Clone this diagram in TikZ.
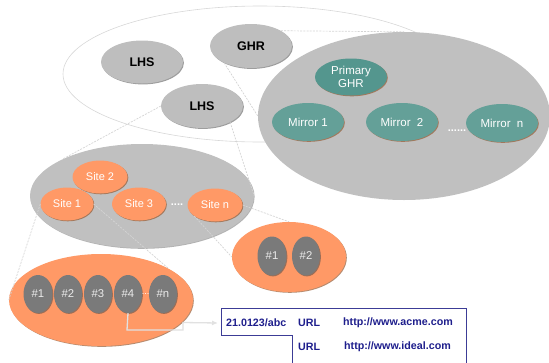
\documentclass[tikz,border=0pt]{standalone}
\usepackage{fontspec}
\setmainfont{Liberation Sans}
\usetikzlibrary{shapes.geometric,shadows,arrows.meta}
\definecolor{bggray}{RGB}{192,192,192}
\definecolor{hubgray}{RGB}{190,190,190}
\definecolor{tealA}{RGB}{100,160,152}
\definecolor{tealB}{RGB}{84,150,142}
\definecolor{orng}{RGB}{255,153,102}
\definecolor{dgray}{RGB}{122,122,122}
\definecolor{navy}{RGB}{30,30,140}
\definecolor{boxline}{RGB}{60,60,150}
\definecolor{zoomln}{RGB}{212,212,212}
\definecolor{outln}{RGB}{215,215,215}
\definecolor{conncol}{RGB}{225,225,225}
\tikzset{
  ell/.style 2 args={ellipse, inner sep=0pt, minimum width=#1, minimum height=#2},
  grayshadow/.style={drop shadow={shadow xshift=0.9pt, shadow yshift=-0.9pt, fill=black!70, opacity=0.55}},
  brownshadow/.style={drop shadow={shadow xshift=0.8pt, shadow yshift=-0.8pt, fill={rgb,255:red,150;green,90;blue,50}, opacity=0.7}},
  hub/.style={fill=hubgray, grayshadow, text=black, font=\fontsize{12.5}{14}\selectfont\bfseries},
  mirror/.style={fill=tealA, brownshadow, text=white, font=\fontsize{11.5}{14}\selectfont},
  sitebox/.style={fill=orng, brownshadow, text=white, font=\fontsize{11}{13}\selectfont},
  holder/.style={fill=orng, brownshadow},
  hdl/.style={fill=dgray, grayshadow, text=white!92!black, font=\fontsize{11.3}{13}\selectfont},
  zoomline/.style={draw=zoomln, line width=0.7pt, dash pattern=on 2pt off 1.2pt},
  dotstxt/.style={text=white, font=\fontsize{11}{13}\selectfont\bfseries, inner sep=0pt},
  tabtxt/.style={text=navy, anchor=west, inner sep=0pt, font=\fontsize{10.7}{13}\selectfont\bfseries},
}
\begin{document}
\begin{tikzpicture}[x=1pt,y=-1pt]
\useasboundingbox (0,0) rectangle (549,362);
\clip (0,0) rectangle (549,362);
% outline ellipse
\node[ell={394pt}{136pt}, draw=outln, line width=0.6pt] (world) at (260,74) {};
% big gray ellipse
\node[ell={292pt}{168pt}, fill=bggray] (big) at (404,116) {};
% middle gray ellipse
\node[ell={224pt}{104pt}, fill=bggray, drop shadow={shadow xshift=0.6pt, shadow yshift=-0.8pt, fill=black!60, opacity=0.5}] (mid) at (142,196) {};
% lower holder ellipses
\node[holder, ell={184pt}{92pt}] (low) at (101,300) {};
\node[holder, ell={114pt}{70pt}] (rgt) at (289,257) {};

% hubs
\node[hub, ell={82pt}{43pt}] (lhsA) at (142,62) {LHS};
\node[hub, ell={82pt}{44pt}] (ghr) at (251,46) {GHR};
\node[hub, ell={82pt}{44pt}] (lhsB) at (202,106) {LHS};

% sites
\node[sitebox, ell={55pt}{33pt}] (site2) at (100,177) {Site 2};
\node[sitebox, ell={53pt}{33pt}] (site1) at (67,204) {Site 1};
\node[sitebox, ell={54pt}{33pt}] (site3) at (139,204) {Site 3};
\node[sitebox, ell={55pt}{33pt}] (siten) at (215,205) {Site n};
\node[dotstxt] (sdots) at (177,205) {....};

% zoom lines
\draw[zoomline] (ghr.27) -- (big.north);
\draw[zoomline] (ghr.212) -- (big.west);
\draw[zoomline] (lhsB.west) -- (mid.155);
\draw[zoomline] (lhsB.-30) -- (mid.east);
\draw[zoomline] (site1.west) -- (low.west);
\draw[zoomline] (site1.east) -- (low.25);
\draw[zoomline] (siten.east) -- (rgt.north);
\draw[zoomline] (siten.208) -- (rgt.west);

% mirrors
\node[mirror, fill=tealB, ell={72pt}{37pt}, align=center] (prim) at (351,77) {Primary\\[-1pt]GHR};
\node[mirror, ell={72pt}{38pt}] (mir1) at (308,122) {Mirror 1};
\node[mirror, ell={72pt}{38pt}] (mir2) at (402,122) {Mirror\ \ 2};
\node[mirror, ell={72pt}{38pt}] (mirn) at (502,123) {Mirror\ \ n};
\node[dotstxt] (mdots) at (457,131) {......};

% handles
\node[hdl, ell={29pt}{39pt}] (r1) at (272,256) {\#1};
\node[hdl, ell={28pt}{39pt}] (r2) at (306,256) {\#2};
\node[hdl, ell={29pt}{38pt}] (h1) at (38,294) {\#1};
\node[hdl, ell={28pt}{38pt}] (h2) at (68,294) {\#2};
\node[hdl, ell={28pt}{38pt}] (h3) at (98,294) {\#3};
\node[hdl, ell={28pt}{38pt}] (h4) at (128,294) {\#4};
\node[hdl, ell={28pt}{38pt}] (hn) at (163,294) {\#n};
\node[dotstxt, font=\fontsize{9}{11}\selectfont] (hdots) at (145.5,294) {...};

% table
\draw[boxline, line width=0.9pt] (221,308) -- (466,308) -- (466,380) -- (292,380) -- (292,335) -- (221,335) -- cycle;
\node[tabtxt] (t1) at (226,323) {21.0123/abc};
\node[tabtxt] (u1) at (298,323) {URL};
\node[tabtxt] (a1) at (343,323) {http://www.acme.com};
\node[tabtxt] (u2) at (298,347) {URL};
\node[tabtxt] (a2) at (344,347) {http://www.ideal.com};

% connector
\draw[conncol, line width=1.3pt, -{Latex[length=6pt,width=5pt]}] (h4.south) -- (127,330) -- (183,330) -- (183,322.5) -- ([xshift=-8pt]t1.west);
\end{tikzpicture}
\end{document}
